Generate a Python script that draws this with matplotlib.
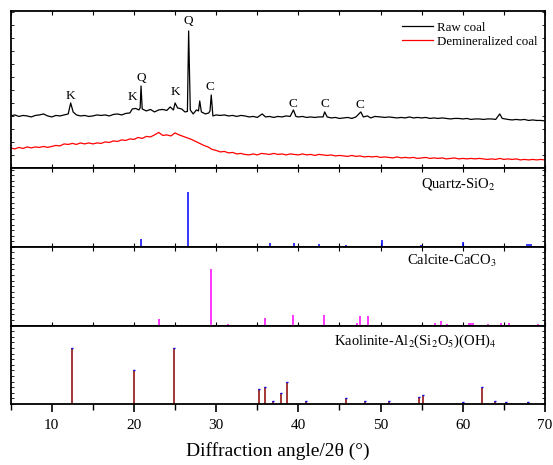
import numpy as np
import matplotlib.pyplot as plt
from matplotlib.ticker import MultipleLocator

plt.rcParams['font.family'] = ['Liberation Serif', 'DejaVu Serif']
plt.rcParams['mathtext.fontset'] = 'stix'

# raw coal pattern (2theta, intensity a.u.)
raw_2theta = [5.0, 5.5, 6.0, 6.5, 7.0, 7.5, 8.0, 8.5, 9.0, 9.5,
              10.0, 10.5, 11.0, 11.5, 12.0, 12.3, 12.6, 13.0, 13.5, 14.0, 14.5,
              15.0, 15.5, 16.0, 16.5, 17.0, 17.5, 18.0, 18.5, 19.0, 19.5, 19.8,
              20.2, 20.6, 20.75, 20.86, 21.0, 21.5, 22.0, 22.5, 23.0, 23.5, 24.0,
              24.4, 24.8, 25.0, 25.3, 25.8, 26.2, 26.5, 26.65, 26.85, 27.2, 27.6,
              27.85, 28.0, 28.2, 28.7, 29.1, 29.25, 29.4, 29.6,
              30.0, 30.5, 31.0, 31.5, 32.0, 32.5, 33.0, 33.5, 34.0, 34.5, 35.0,
              35.6, 36.0, 36.5, 37.0, 37.5, 38.0, 38.5, 39.0, 39.4, 39.7,
              40.0, 40.5, 41.0, 41.5, 42.0, 42.5, 43.0, 43.2, 43.5, 44.0, 44.5,
              45.0, 45.5, 46.0, 46.5, 47.0, 47.6, 47.9, 48.4, 48.8, 49.3,
              50.0, 50.5, 51.0, 51.5, 52.0, 52.5, 53.0, 53.5, 54.0, 54.5,
              55.0, 55.5, 56.0, 56.5, 57.0, 57.5, 58.0, 58.5, 59.0, 59.5,
              60.0, 60.5, 61.0, 61.5, 62.0, 62.5, 63.0, 63.5, 64.0, 64.5, 64.8,
              65.5, 66.0, 66.5, 67.0, 67.5, 68.0, 68.5, 69.0, 69.5, 70.0]
raw_int = [52, 53, 51.5, 52.5, 52, 51, 52.5, 53, 54, 52,
           51, 52.5, 52, 53, 54, 65, 56, 53, 52, 52.5, 51.5,
           52, 53, 52.5, 53, 52, 53.5, 54, 53, 54.5, 55, 59,
           59.5, 58, 60, 82, 59, 57, 58.5, 56, 58, 58.5, 57.5,
           61, 58, 65, 60, 59, 56, 56.5, 137, 58, 54, 58,
           57, 67, 56, 54, 55, 57, 73, 52,
           53, 52.5, 53, 52, 52.5, 51.5, 52.5, 52, 51, 51.5, 50.5,
           54, 51, 51.5, 50.5, 51.5, 51, 52, 51.5, 58, 51.5,
           51, 51.5, 50.5, 51, 50.5, 51, 51, 56, 51, 50, 50.5,
           49.5, 50, 50.5, 49.5, 51, 56, 51, 52, 50, 51.5,
           51, 50.5, 51, 50.5, 50, 50.5, 50, 51, 50, 50.5,
           50, 50.5, 49.5, 50, 49.5, 50, 49.5, 49, 49.5, 49.5,
           49, 49.5, 48.5, 49, 49, 48.5, 49, 49, 48.5, 54, 49.5,
           48.5, 48, 48.5, 48, 48.5, 47.5, 48, 47.5, 47.5, 47]

# demineralized coal pattern, 0.5 deg steps from 5 to 70
demin_int = [20, 19, 20.5, 19.5, 21, 20, 21, 20.5, 21.5, 20.5,
             21.5, 22.5, 22, 24, 23.5, 24.5, 23.5, 25, 24, 25,
             24, 25, 24.5, 26, 25.5, 27, 26.5, 28, 27.5, 29,
             28.5, 30.5, 29.5, 31.5, 31, 33, 35.5, 32.5, 33, 32,
             35, 33, 31.5, 30, 28.5, 26.5, 24.5, 22.5, 21, 18.5,
             17.5, 16, 16.5, 15, 15.5, 14, 14.5, 13.5, 13, 14,
             13, 14.5, 14, 13.5, 14.5, 13.5, 14, 13, 14, 13.5,
             13, 14, 13, 13.5, 12.5, 13.5, 13, 12.5, 13, 12,
             12.5, 12, 11.5, 12.5, 11.5, 12, 11, 11.5, 11, 11.5,
             10.5, 11, 10.5, 10, 11, 10, 10.5, 10, 10.5, 9.5,
             10, 10.5, 9.5, 10, 9.5, 10, 9, 9.5, 10, 9,
             9.5, 9, 9.5, 9, 9.5, 9, 8.5, 9, 8.5, 9.5,
             8.5, 9, 8.5, 9, 8, 8.5, 8, 8.5, 8, 8.5,
             8]
demin_2theta = np.arange(5.0, 70.01, 0.5)

# peak labels
peak_labels = ['K', 'K', 'Q', 'K', 'Q', 'C', 'C', 'C', 'C']
peak_x = [12.3, 19.8, 20.86, 25.0, 26.65, 29.3, 39.3, 43.2, 47.5]
peak_y = [72, 70.7, 90, 76.3, 147, 80.7, 64, 64, 63]

# standard cards (relative intensity %)
quartz_pos = [20.86, 26.62, 36.52, 39.44, 40.26, 42.45, 45.76, 50.12, 50.68,
              54.89, 55.2, 57.25, 60.0, 64.07, 65.87, 67.76, 68.1, 68.35]
quartz_int = [14.5, 100, 7.8, 7.8, 2.4, 5.5, 3.1, 12.7, 1.3,
              3.6, 1.8, 1.3, 8.5, 1.3, 1.3, 5.5, 6, 4.9]

calcite_pos = [23.0, 29.36, 31.42, 35.93, 39.4, 43.14, 47.17, 47.47, 48.5,
               56.6, 57.38, 58.1, 60.7, 61.0, 61.3, 63.1, 64.7, 65.6, 69.2]
calcite_int = [11, 100, 2, 14, 18, 18, 5, 17, 17,
               4, 8, 2, 5, 5, 4, 2, 5, 4, 2]

kaol_pos = [12.41, 20.05, 24.9, 35.16, 35.97, 36.9, 37.86, 38.67, 40.98, 45.8,
            48.15, 51.07, 54.63, 55.15, 60.0, 62.36, 63.94, 65.28, 67.98]
kaol_int = [100, 60, 100, 26, 30, 6, 20, 40, 6, 10,
            6, 6, 12, 16, 4, 30, 6, 4, 4]

fig, axes = plt.subplots(4, 1, figsize=(5.53, 4.65), dpi=100, sharex=True,
                         gridspec_kw={'height_ratios': [157.3, 79, 78.7, 78.6], 'hspace': 0})
fig.subplots_adjust(left=0.0193, right=0.9855, top=0.977, bottom=0.131)

ax = axes[0]
ax.plot(raw_2theta, raw_int, color='black', lw=0.9, label='Raw coal')
ax.plot(demin_2theta, demin_int, color='red', lw=0.9, label='Demineralized coal')
for lab, x, y in zip(peak_labels, peak_x, peak_y):
    ax.text(x, y, lab, ha='center', va='center', fontsize=9.5)
ax.set_ylim(0, 157.3)
ax.legend(loc='upper right', frameon=False, fontsize=9.3, handlelength=2.4,
          handletextpad=0.35, labelspacing=0.15, bbox_to_anchor=(1.008, 1.005))
ax.yaxis.set_major_locator(MultipleLocator(26))
ax.yaxis.set_minor_locator(MultipleLocator(13))

sticks = [(quartz_pos, quartz_int, '#0000ff', r'Quartz-SiO$_2$', 0.838, 0.80, 143.6),
          (calcite_pos, calcite_int, '#ff00ff', r'Calcite-CaCO$_3$', 0.826, 0.826, 140),
          (kaol_pos, kaol_int, '#8b0000', r'Kaolinite-Al$_2$(Si$_2$O$_5$)(OH)$_4$', 0.758, 0.805, 140)]
for ax, (pos, inten, col, name, tx, ty, top) in zip(axes[1:], sticks):
    ax.vlines(pos, 0, inten, colors=col, lw=1.1)
    ax.set_ylim(0, top)
    ax.text(tx, ty, name, transform=ax.transAxes, ha='center', va='center', fontsize=10.5)
    ax.yaxis.set_major_locator(MultipleLocator(20))
    ax.yaxis.set_minor_locator(MultipleLocator(10))
axes[3].plot(kaol_pos, kaol_int, ls='none', marker='_', ms=1.5, mew=1.0, color='blue')

for ax in axes:
    for s in ax.spines.values():
        s.set_linewidth(1.3)
    ax.set_yticklabels([])
    ax.tick_params(axis='y', which='both', direction='in', left=True, right=True, length=2, width=0.6)
    ax.tick_params(axis='x', which='both', direction='in', top=True, bottom=True, length=3, width=0.8)
    ax.tick_params(axis='y', which='major', labelleft=False)

axes[3].set_xlim(5, 70)
axes[3].xaxis.set_major_locator(MultipleLocator(10))
axes[3].xaxis.set_minor_locator(MultipleLocator(5))
axes[3].tick_params(axis='x', which='both', direction='out', top=False, labelsize=11, pad=5)
axes[3].tick_params(axis='x', which='major', length=6, width=1.2)
axes[3].tick_params(axis='x', which='minor', length=4, width=1.0)
axes[3].set_xlabel('Diffraction angle/2θ (°)', fontsize=14, labelpad=7)

plt.savefig('out.png', dpi=100)
